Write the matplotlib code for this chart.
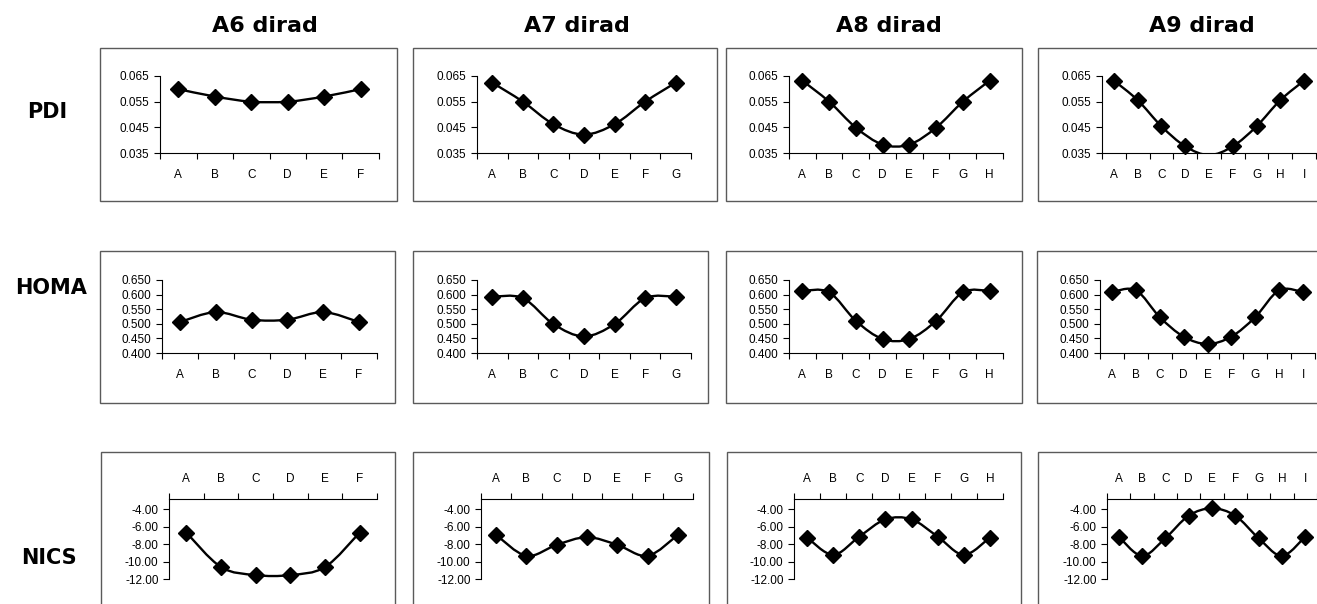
import numpy as np
import matplotlib
matplotlib.use("Agg")
import matplotlib.pyplot as plt
from matplotlib.path import Path
from matplotlib.patches import PathPatch, Rectangle

plt.rcParams['font.family'] = ['Liberation Sans', 'DejaVu Sans']

letters = list("ABCDEFGHI")
columns = ["A6 dirad", "A7 dirad", "A8 dirad", "A9 dirad"]
rows = ["PDI", "HOMA", "NICS"]

pdi_a6 = [0.0599, 0.0570, 0.0550, 0.0550, 0.0570, 0.0599]
pdi_a7 = [0.0624, 0.0550, 0.0462, 0.0422, 0.0462, 0.0550, 0.0624]
pdi_a8 = [0.0632, 0.0550, 0.0449, 0.0383, 0.0383, 0.0449, 0.0550, 0.0632]
pdi_a9 = [0.0632, 0.0556, 0.0454, 0.0376, 0.0342, 0.0376, 0.0454, 0.0556, 0.0632]

homa_a6 = [0.506, 0.540, 0.514, 0.514, 0.540, 0.506]
homa_a7 = [0.593, 0.588, 0.499, 0.457, 0.499, 0.588, 0.593]
homa_a8 = [0.613, 0.608, 0.510, 0.448, 0.448, 0.510, 0.608, 0.613]
homa_a9 = [0.609, 0.615, 0.523, 0.456, 0.431, 0.456, 0.523, 0.615, 0.609]

nics_a6 = [-6.69, -10.63, -11.55, -11.55, -10.63, -6.69]
nics_a7 = [-6.96, -9.35, -8.09, -7.22, -8.09, -9.35, -6.96]
nics_a8 = [-7.26, -9.23, -7.15, -5.18, -5.18, -7.15, -9.23, -7.26]
nics_a9 = [-7.15, -9.35, -7.34, -4.76, -3.92, -4.76, -7.34, -9.35, -7.15]

W, H = 1317, 604
fig = plt.figure(figsize=(W / 100, H / 100), dpi=100)


def fig_rect(l, t, r, b):
    return [l / W, 1 - b / H, (r - l) / W, (b - t) / H]


def smooth_path(y):
    # excel-style smoothed line: cubic bezier segments through each point
    pts = np.column_stack([np.arange(len(y)), y]).astype(float)
    ext = np.vstack([pts[:1], pts, pts[-1:]])
    verts = [pts[0]]
    codes = [Path.MOVETO]
    for i in range(len(pts) - 1):
        p0, p1, p2, p3 = ext[i], ext[i + 1], ext[i + 2], ext[i + 3]
        verts += [p1 + (p2 - p0) / 6, p2 - (p3 - p1) / 6, p2]
        codes += [Path.CURVE4] * 3
    return Path(verts, codes)


def draw_panel(axrect, frame, values, ylim, yticks, fmt, top_axis=False, xpad=11.5):
    fl, ft, fr, fb = frame
    fig.add_artist(Rectangle((fl / W, 1 - fb / H), (fr - fl) / W, (fb - ft) / H,
                             transform=fig.transFigure, fill=False,
                             ec="#5a5a5a", lw=1))
    ax = fig.add_axes(fig_rect(*axrect))
    n = len(values)
    ax.set_xlim(-0.5, n - 0.5)
    ax.set_ylim(*ylim)
    ax.patch.set_visible(False)
    for s in ax.spines.values():
        s.set_visible(False)
    for side in ["left", "top" if top_axis else "bottom"]:
        ax.spines[side].set_visible(True)
        ax.spines[side].set_linewidth(0.8)

    ax.set_xticks(np.arange(n + 1) - 0.5)
    ax.set_xticklabels([])
    ax.set_xticks(np.arange(n), labels=letters[:n], minor=True)
    ax.tick_params(axis="x", which="major", length=4, width=0.8, direction="out",
                   top=top_axis, bottom=not top_axis)
    ax.tick_params(axis="x", which="minor", length=0, pad=xpad, labelsize=8.5,
                   top=top_axis, bottom=not top_axis,
                   labeltop=top_axis, labelbottom=not top_axis)
    ax.set_yticks(yticks, labels=[fmt % v for v in yticks])
    ax.tick_params(axis="y", length=4, width=0.8, pad=3.5, labelsize=8.5)

    ax.add_patch(PathPatch(smooth_path(values), fill=False, lw=1.7,
                           ec="black", transform=ax.transData, zorder=2))
    # markers outside the value range are dropped, the rest drawn whole
    y = np.array(values)
    x = np.arange(n)
    shown = y >= ylim[0]
    ax.plot(x[shown], y[shown], "D", color="black", ms=8.5, zorder=3,
            clip_on=False)
    return ax


# pixel layout: plot area (left, right) per column, (top, bottom) per row
plot_x = [
    [(160, 379), (477, 691), (789, 1003), (1102, 1316)],
    [(162, 377), (477, 691), (789, 1003), (1100, 1315)],
    [(169, 377), (481, 693), (794, 1003), (1107, 1317)],
]
frame_x = [
    [(100, 397), (413, 717), (726, 1022), (1038, 1330)],
    [(100, 395), (413, 708), (726, 1022), (1037, 1330)],
    [(101, 395), (413, 709), (727, 1021), (1038, 1330)],
]
plot_y = [(76, 153), (280, 353), (499, 579)]
frame_y = [(48, 201), (251, 403), (452, 620)]

data = [
    [pdi_a6, pdi_a7, pdi_a8, pdi_a9],
    [homa_a6, homa_a7, homa_a8, homa_a9],
    [nics_a6, nics_a7, nics_a8, nics_a9],
]
ylims = [(0.035, 0.065), (0.400, 0.650), (-12.0, -2.85)]
yticks = [
    [0.035, 0.045, 0.055, 0.065],
    [0.400, 0.450, 0.500, 0.550, 0.600, 0.650],
    [-12.0, -10.0, -8.0, -6.0, -4.0],
]
fmts = ["%.3f", "%.3f", "%.2f"]

for r in range(3):
    for c in range(4):
        l, rr = plot_x[r][c]
        t, b = plot_y[r]
        fl, fr = frame_x[r][c]
        ft, fb = frame_y[r]
        draw_panel((l, t, rr, b), (fl, ft, fr, fb), data[r][c], ylims[r],
                   yticks[r], fmts[r], top_axis=(r == 2),
                   xpad=10.3 if r == 2 else 11.5)

title_x = [265, 577, 889, 1202]
for name, cx in zip(columns, title_x):
    fig.text(cx / W, 1 - 32 / H, name, ha="center", va="baseline",
             fontsize=16, fontweight="bold", family="DejaVu Sans")

row_y = [118, 294, 564]
row_x = [47, 51, 49]
for name, cx, by in zip(rows, row_x, row_y):
    fig.text(cx / W, 1 - by / H, name, ha="center", va="baseline",
             fontsize=15, fontweight="bold", family="DejaVu Sans")

fig.savefig("out.png", dpi=100)
